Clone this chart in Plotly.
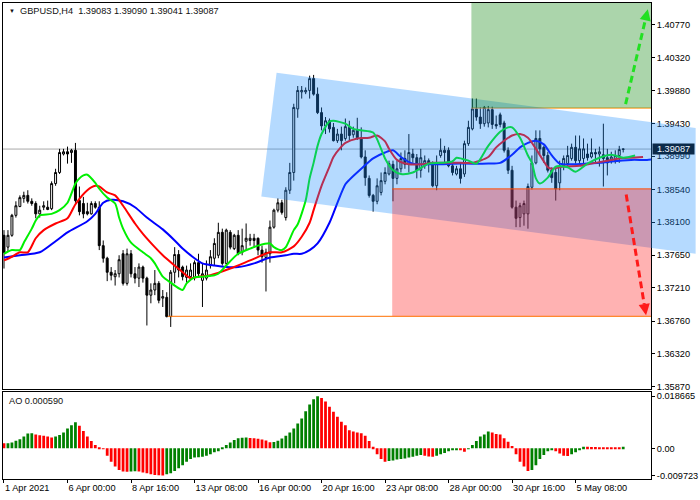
import plotly.graph_objects as go

# ---------------- data ----------------
bar_index = list(range(157))

opens = [1.3792,1.3776,1.3792,1.3819,1.3831,1.3842,1.3846,1.3838,1.3835,1.3821,
1.3830,1.3830,1.3828,1.3862,1.3877,1.3902,1.3905,1.3904,1.3907,1.3839,
1.3835,1.3824,1.3821,1.3835,1.3830,1.3778,1.3761,1.3742,1.3736,1.3740,
1.3767,1.3727,1.3767,1.3740,1.3734,1.3749,1.3734,1.3711,1.3718,1.3727,
1.3707,1.3708,1.3682,1.3742,1.3766,1.3749,1.3735,1.3736,1.3735,1.3755,
1.3731,1.3734,1.3751,1.3761,1.3765,1.3796,1.3754,1.3796,1.3774,1.3792,
1.3769,1.3784,1.3785,1.3788,1.3788,1.3772,1.3762,1.3767,1.3803,1.3826,
1.3836,1.3816,1.3853,1.3877,1.3963,1.3986,1.3986,1.3988,1.4004,1.3983,
1.3958,1.3940,1.3947,1.3938,1.3920,1.3929,1.3923,1.3938,1.3928,1.3934,
1.3924,1.3898,1.3869,1.3846,1.3838,1.3850,1.3865,1.3875,1.3888,1.3869,
1.3882,1.3896,1.3888,1.3902,1.3897,1.3880,1.3886,1.3893,1.3888,1.3859,
1.3900,1.3907,1.3907,1.3886,1.3875,1.3882,1.3875,1.3916,1.3936,1.3963,
1.3952,1.3943,1.3944,1.3962,1.3942,1.3955,1.3944,1.3907,1.3880,1.3830,
1.3816,1.3821,1.3821,1.3857,1.3890,1.3923,1.3911,1.3900,1.3880,1.3877,
1.3863,1.3886,1.3889,1.3896,1.3911,1.3893,1.3896,1.3902,1.3898,1.3904,
1.3902,1.3901,1.3897,1.3893,1.3893,1.3900,1.39083]

highs = [1.3799,1.3799,1.3821,1.3838,1.3846,1.3851,1.3853,1.3842,1.3838,1.3832,
1.3838,1.3839,1.3865,1.3882,1.3909,1.3909,1.3912,1.3909,1.3917,1.3858,
1.3844,1.3836,1.3838,1.3838,1.3838,1.3785,1.3763,1.3749,1.3745,1.3765,
1.3772,1.3774,1.3772,1.3749,1.3754,1.3751,1.3736,1.3727,1.3745,1.3730,
1.3718,1.3715,1.3745,1.3776,1.3772,1.3751,1.3751,1.3754,1.3758,1.3767,
1.3754,1.3758,1.3772,1.3788,1.3809,1.3801,1.3801,1.3799,1.3794,1.3799,
1.3801,1.3808,1.3794,1.3794,1.3789,1.3778,1.3774,1.3812,1.3828,1.3842,
1.3840,1.3857,1.3890,1.3970,1.3994,1.3994,1.3992,1.4008,1.4009,1.3992,
1.3965,1.3952,1.3950,1.3944,1.3936,1.3939,1.3950,1.3947,1.3939,1.3951,
1.3938,1.3907,1.3873,1.3848,1.3869,1.3877,1.3884,1.3893,1.3893,1.3893,
1.3904,1.3907,1.3929,1.3909,1.3902,1.3909,1.3900,1.3896,1.3892,1.3900,
1.3923,1.3913,1.3911,1.3893,1.3886,1.3889,1.3920,1.3947,1.3977,1.3977,
1.3965,1.3967,1.3967,1.3966,1.3954,1.3958,1.3947,1.3911,1.3886,1.3839,
1.3836,1.3839,1.3862,1.3900,1.3934,1.3934,1.3913,1.3905,1.3884,1.3884,
1.3893,1.3900,1.3913,1.3916,1.3927,1.3927,1.3923,1.3916,1.3923,1.3909,
1.3912,1.3943,1.3909,1.3905,1.3907,1.3913,1.39090]

lows = [1.3747,1.3770,1.3790,1.3816,1.3830,1.3836,1.3835,1.3832,1.3815,1.3816,
1.3826,1.3826,1.3826,1.3859,1.3875,1.3900,1.3889,1.3890,1.3836,1.3819,
1.3815,1.3819,1.3820,1.3828,1.3772,1.3755,1.3730,1.3731,1.3724,1.3735,
1.3724,1.3724,1.3735,1.3727,1.3722,1.3728,1.3670,1.3700,1.3711,1.3700,
1.3695,1.3681,1.3668,1.3727,1.3735,1.3731,1.3728,1.3731,1.3731,1.3735,
1.3695,1.3731,1.3747,1.3751,1.3761,1.3751,1.3751,1.3773,1.3772,1.3765,
1.3765,1.3772,1.3778,1.3776,1.3765,1.3755,1.3716,1.3755,1.3801,1.3823,
1.3820,1.3812,1.3848,1.3866,1.3951,1.3977,1.3983,1.3977,1.3981,1.3956,
1.3934,1.3929,1.3931,1.3919,1.3917,1.3907,1.3920,1.3920,1.3924,1.3921,
1.3896,1.3859,1.3843,1.3824,1.3834,1.3846,1.3861,1.3873,1.3838,1.3861,
1.3877,1.3882,1.3877,1.3890,1.3869,1.3870,1.3882,1.3877,1.3857,1.3853,
1.3897,1.3890,1.3884,1.3873,1.3873,1.3862,1.3871,1.3913,1.3934,1.3947,
1.3936,1.3939,1.3938,1.3936,1.3936,1.3938,1.3904,1.3875,1.3828,1.3803,
1.3803,1.3805,1.3801,1.3854,1.3888,1.3902,1.3890,1.3877,1.3863,1.3839,
1.3853,1.3880,1.3886,1.3893,1.3889,1.3886,1.3889,1.3893,1.3896,1.3889,
1.3885,1.3858,1.3873,1.3889,1.3889,1.3890,1.39041]

closes = [1.3769,1.3792,1.3819,1.3832,1.3843,1.3846,1.3838,1.3835,1.3821,1.3826,
1.3832,1.3827,1.3862,1.3877,1.3904,1.3905,1.3902,1.3907,1.3839,1.3824,
1.3821,1.3821,1.3835,1.3830,1.3778,1.3761,1.3742,1.3738,1.3740,1.3759,
1.3727,1.3767,1.3740,1.3734,1.3749,1.3734,1.3711,1.3718,1.3727,1.3704,
1.3709,1.3682,1.3742,1.3766,1.3745,1.3736,1.3745,1.3745,1.3755,1.3740,
1.3740,1.3745,1.3763,1.3781,1.3796,1.3754,1.3799,1.3776,1.3792,1.3767,
1.3778,1.3788,1.3788,1.3785,1.3772,1.3763,1.3769,1.3803,1.3826,1.3836,
1.3823,1.3853,1.3877,1.3965,1.3988,1.3988,1.3988,1.4004,1.3983,1.3958,
1.3940,1.3947,1.3936,1.3920,1.3929,1.3920,1.3939,1.3927,1.3934,1.3924,
1.3898,1.3870,1.3846,1.3838,1.3859,1.3866,1.3877,1.3889,1.3869,1.3882,
1.3896,1.3888,1.3904,1.3897,1.3880,1.3897,1.3893,1.3888,1.3859,1.3890,
1.3907,1.3904,1.3886,1.3877,1.3882,1.3869,1.3916,1.3938,1.3963,1.3952,
1.3943,1.3965,1.3962,1.3942,1.3940,1.3942,1.3907,1.3880,1.3830,1.3815,
1.3832,1.3835,1.3858,1.3890,1.3923,1.3909,1.3900,1.3880,1.3870,1.3855,
1.3886,1.3896,1.3900,1.3911,1.3893,1.3909,1.3909,1.3897,1.3904,1.3902,
1.3905,1.3896,1.3890,1.3898,1.3900,1.3908,1.39087]

# Alligator lines (read at selected bars)
jaw_x = [0,4,9,13,16,21,23,25,27,30,33,36,40,43,45,48,50,53,56,59,63,67,71,73,75,77,79,82,84,86,87,
         90,93,96,98,100,103,108,115,122,125,128,130,132,134,136,138,140,143,147,150,153,158,162,164]
jaw_y = [1.3762,1.3765,1.3769,1.3784,1.3796,1.3811,1.3821,1.3836,1.3840,1.3838,1.3830,1.3816,1.3800,
         1.3785,1.3774,1.3761,1.3754,1.3751,1.3749,1.3749,1.3754,1.3762,1.3765,1.3767,1.3767,1.3772,
         1.3781,1.3809,1.3836,1.3861,1.3867,1.3882,1.3896,1.3904,1.3907,1.3898,1.3889,1.3888,1.3889,
         1.3889,1.3890,1.3901,1.3911,1.3917,1.3920,1.3915,1.3900,1.3889,1.3888,1.3889,1.3890,1.3892,
         1.3894,1.3894,1.3895]

teeth_x = [0,2,4,6,8,10,13,16,18,21,23,24,26,28,30,33,35,38,40,43,45,47,49,52,57,62,67,70,73,75,77,
           78,79,80,82,83,85,86,89,92,94,96,97,99,102,105,108,112,115,118,122,124,126,128,130,132,
           134,136,137,138,141,145,148,152,155,158,161]
teeth_y = [1.3758,1.3763,1.3769,1.3769,1.3788,1.3799,1.3808,1.3815,1.3834,1.3853,1.3859,1.3858,1.3850,
           1.3846,1.3832,1.3808,1.3794,1.3776,1.3765,1.3751,1.3742,1.3734,1.3736,1.3738,1.3747,1.3758,
           1.3769,1.3769,1.3777,1.3790,1.3809,1.3826,1.3843,1.3859,1.3885,1.3898,1.3912,1.3917,1.3923,
           1.3924,1.3927,1.3919,1.3909,1.3894,1.3888,1.3888,1.3890,1.3890,1.3890,1.3890,1.3898,1.3911,
           1.3920,1.3927,1.3929,1.3924,1.3909,1.3892,1.3884,1.3882,1.3885,1.3886,1.3889,1.3893,1.3896,
           1.3897,1.3898]

lips_x = [0,2,4,5,7,8,9,12,14,16,18,19,20,21,23,24,26,28,29,30,32,35,37,38,40,42,43,45,46,48,50,53,
          54,57,59,62,64,67,68,70,71,73,74,76,77,78,79,80,82,83,86,88,90,93,95,96,98,100,103,107,110,
          113,114,117,119,122,125,127,128,130,132,133,134,135,137,139,142,144,147,150,153,156,159]
lips_y = [1.3767,1.3772,1.3772,1.3782,1.3801,1.3812,1.3819,1.3821,1.3826,1.3836,1.3862,1.3869,1.3873,
          1.3874,1.3863,1.3855,1.3843,1.3835,1.3816,1.3801,1.3782,1.3769,1.3761,1.3754,1.3736,1.3728,
          1.3724,1.3718,1.3727,1.3735,1.3736,1.3738,1.3740,1.3757,1.3767,1.3774,1.3778,1.3781,1.3776,
          1.3772,1.3776,1.3799,1.3807,1.3839,1.3869,1.3890,1.3913,1.3929,1.3946,1.3947,1.3943,1.3936,
          1.3934,1.3931,1.3909,1.3896,1.3880,1.3875,1.3877,1.3889,1.3890,1.3892,1.3897,1.3893,1.3889,
          1.3913,1.3932,1.3938,1.3938,1.3924,1.3900,1.3890,1.3869,1.3862,1.3870,1.3885,1.3884,1.3878,
          1.3889,1.3897,1.3901,1.3897,1.3900]

ao_values = [0.00180,0.00185,0.00210,0.00270,0.00330,0.00420,0.00530,0.00540,0.00500,0.00470,
0.00450,0.00420,0.00390,0.00420,0.00480,0.00570,0.00710,0.00830,0.00930,0.00810,
0.00620,0.00420,0.00260,0.00120,0.00040,-0.00020,-0.00260,-0.00480,-0.00650,-0.00770,
-0.00830,-0.00840,-0.00830,-0.00820,-0.00830,-0.00860,-0.00890,-0.00930,-0.00950,-0.00960,
-0.00972,-0.00930,-0.00890,-0.00810,-0.00710,-0.00600,-0.00480,-0.00380,-0.00330,-0.00320,
-0.00300,-0.00260,-0.00210,-0.00140,-0.00100,0.00020,0.00120,0.00210,0.00300,0.00360,
0.00380,0.00385,0.00370,0.00360,0.00340,0.00320,0.00280,0.00220,0.00230,0.00270,
0.00350,0.00450,0.00570,0.00710,0.00890,0.01070,0.01330,0.01570,0.01760,0.01866,
0.01800,0.01680,0.01490,0.01310,0.01130,0.00950,0.00830,0.00650,0.00600,0.00570,
0.00540,0.00450,0.00260,0.00060,-0.00210,-0.00380,-0.00480,-0.00450,-0.00430,-0.00400,
-0.00380,-0.00360,-0.00330,-0.00300,-0.00260,-0.00240,-0.00260,-0.00290,-0.00300,-0.00260,
-0.00210,-0.00170,-0.00100,-0.00050,-0.00040,-0.00070,-0.00120,-0.00020,0.00120,0.00260,
0.00420,0.00500,0.00600,0.00570,0.00510,0.00500,0.00360,0.00240,0.00080,-0.00210,
-0.00480,-0.00650,-0.00810,-0.00770,-0.00600,-0.00380,-0.00240,-0.00100,-0.00060,-0.00100,
-0.00180,-0.00260,-0.00270,-0.00210,-0.00140,-0.00070,0.00060,0.00055,0.00050,0.00046,
0.00042,0.00039,0.00036,0.00034,0.00032,0.00030,0.00059]

price_ticks = [1.40770,1.40320,1.39880,1.39430,1.38990,1.38540,1.38100,1.37650,1.37210,1.36760,1.36320,1.35870]
price_tick_text = ["1.40770","1.40320","1.39880","1.39430","1.38990","1.38540","1.38100","1.37650","1.37210","1.36760","1.36320","1.35870"]
date_tick_index = [0,16,32,48,64,80,96,112,128,144]
date_tick_labels = ["1 Apr 2021","6 Apr 00:00","8 Apr 16:00","13 Apr 08:00","16 Apr 00:00",
                    "20 Apr 16:00","23 Apr 08:00","28 Apr 00:00","30 Apr 16:00","5 May 08:00"]
ao_ticks = [0.018665, 0.0, -0.009723]
ao_tick_text = ["0.018665", "0.00", "-0.009723"]

current_price = 1.39087
last_ohlc = "1.39083 1.39090 1.39041 1.39087"
ao_last = "0.000590"

# analysis objects (levels in price / bar units)
buy_zone_start, buy_zone_level = 117.75, 1.39641
sell_zone_start, sell_zone_top, sell_zone_bottom = 97.8, 1.38548, 1.36824
support_start = 41.25
channel_top_left = (68.675, 1.40118)
channel_bottom_left = (64.825, 1.38444)
channel_slope = -0.0000707
up_arrow = ((156.6, 1.39695), (162.2, 1.40978))
down_arrow = ((156.75, 1.38471), (161.75, 1.36838))

# ---------------- layout geometry ----------------
X0, X1 = -0.25, 163.0
Y0, Y1 = 1.35838, 1.41063
MAIN_DOM = (0.18868, 1.0)
AO_DOM = (0.0, 0.18239)
AO_RANGE = (-0.010957, 0.020093)
FIG_RIGHT_X = X0 + 698 / 4.0

def px_(i):
    return (i - X0) / (X1 - X0)

def py_(p):
    return MAIN_DOM[0] + (p - Y0) / (Y1 - Y0) * (MAIN_DOM[1] - MAIN_DOM[0])

FONT = "Liberation Sans, Arial, sans-serif"

fig = go.Figure()
fig.add_trace(go.Candlestick(
    x=bar_index, open=opens, high=highs, low=lows, close=closes,
    increasing=dict(line=dict(color="black", width=1), fillcolor="white"),
    decreasing=dict(line=dict(color="black", width=1), fillcolor="black"),
    whiskerwidth=0, xaxis="x", yaxis="y", hoverinfo="skip", showlegend=False))

for xs, ys, col in [(jaw_x, jaw_y, "#0000ff"), (teeth_x, teeth_y, "#ff0000"), (lips_x, lips_y, "#00f000")]:
    fig.add_trace(go.Scatter(x=xs, y=ys, mode="lines", line=dict(color=col, width=2, shape="spline", smoothing=0.7),
                             xaxis="x", yaxis="y", hoverinfo="skip", showlegend=False))

ao_colors = ["#ff0000"] + ["#008000" if ao_values[k] > ao_values[k - 1] else "#ff0000" for k in range(1, len(ao_values))]
fig.add_trace(go.Bar(x=bar_index, y=ao_values, marker=dict(color=ao_colors, line=dict(width=0)), width=0.7,
                     xaxis="x2", yaxis="y2", hoverinfo="skip", showlegend=False))

shapes = []
shapes.append(dict(type="line", xref="x domain", yref="y", x0=0, x1=1, y0=current_price, y1=current_price,
                   line=dict(color="#a8a8a8", width=1), layer="below"))
shapes.append(dict(type="line", xref="x", yref="y", x0=buy_zone_start, x1=X1, y0=buy_zone_level, y1=buy_zone_level,
                   line=dict(color="#ff8c00", width=1), layer="above"))
tl, bl = channel_top_left, channel_bottom_left
tr = (FIG_RIGHT_X, tl[1] + channel_slope * (FIG_RIGHT_X - tl[0]))
br = (FIG_RIGHT_X, bl[1] + channel_slope * (FIG_RIGHT_X - bl[0]))
path = "M {} {} L {} {} L {} {} L {} {} Z".format(px_(tl[0]), py_(tl[1]), px_(tr[0]), py_(tr[1]),
                                                  px_(br[0]), py_(br[1]), px_(bl[0]), py_(bl[1]))
shapes.append(dict(type="path", xref="paper", yref="paper", path=path, fillcolor="rgb(30,144,255)",
                   opacity=0.33, line=dict(width=0), layer="above"))
shapes.append(dict(type="rect", xref="x", yref="y", x0=buy_zone_start, x1=X1, y0=buy_zone_level, y1=Y1,
                   fillcolor="rgb(0,128,0)", opacity=0.33, line=dict(width=0), layer="above"))
shapes.append(dict(type="rect", xref="x", yref="y", x0=sell_zone_start, x1=X1, y0=sell_zone_bottom, y1=sell_zone_top,
                   fillcolor="rgb(255,0,0)", opacity=0.3, line=dict(width=0), layer="above"))
shapes.append(dict(type="line", xref="x", yref="y", x0=sell_zone_start, x1=X1, y0=sell_zone_top, y1=sell_zone_top,
                   line=dict(color="#ff4a00", width=1), layer="above"))
shapes.append(dict(type="line", xref="x", yref="y", x0=support_start, x1=X1, y0=sell_zone_bottom, y1=sell_zone_bottom,
                   line=dict(color="#ff7000", width=1), layer="above"))

annotations = []
for (s, t), col, frac in [(up_arrow, "#22e022", 0.115), (down_arrow, "#ff1a1a", 0.09)]:
    hx = t[0] - frac * (t[0] - s[0])
    hy = t[1] - frac * (t[1] - s[1])
    shapes.append(dict(type="line", xref="x", yref="y", x0=s[0], y0=s[1], x1=hx, y1=hy,
                       line=dict(color=col, width=3, dash="7px,4px"), layer="above"))
    annotations.append(dict(x=t[0], y=t[1], ax=hx, ay=hy, xref="x", yref="y", axref="x", ayref="y",
                            text="", showarrow=True, arrowhead=2, arrowsize=0.9, arrowwidth=2.5,
                            arrowcolor=col, standoff=0))

annotations.append(dict(xref="paper", yref="paper", x=(6.5 - 2) / 653, y=(479 - 10) / 477, xanchor="left",
                        yanchor="middle", text="▼", showarrow=False, font=dict(family=FONT, size=6, color="#111111")))
annotations.append(dict(xref="paper", yref="paper", x=(17 - 2) / 653, y=(479 - 10.5) / 477, xanchor="left",
                        yanchor="middle", text="GBPUSD,H4  " + last_ohlc, showarrow=False,
                        font=dict(family=FONT, size=9.2, color="#111111")))
annotations.append(dict(xref="paper", yref="paper", x=(6 - 2) / 653, y=(479 - 400.7) / 477, xanchor="left",
                        yanchor="middle", text="AO " + ao_last, showarrow=False,
                        font=dict(family=FONT, size=9.2, color="#111111")))
annotations.append(dict(xref="paper", yref="y", x=1, y=current_price, xanchor="left", yanchor="middle",
                        xshift=1, text="{:.5f}".format(current_price), showarrow=False, width=41, height=10,
                        bgcolor="#0b2a4a", font=dict(family=FONT, size=9.2, color="#eef6ff"), borderpad=0))

axis_common = dict(showgrid=False, zeroline=False, showline=True, mirror=True, linecolor="black", linewidth=1,
                   tickfont=dict(family=FONT, size=9.2, color="black"), tickcolor="black")

fig.update_layout(
    width=700, height=500, margin=dict(l=2, r=45, t=2, b=21),
    paper_bgcolor="white", plot_bgcolor="white", showlegend=False, hovermode=False,
    xaxis=dict(domain=[0, 1], range=[X0, X1], anchor="y", showticklabels=False, ticks="",
               rangeslider=dict(visible=False), **axis_common),
    yaxis=dict(domain=list(MAIN_DOM), range=[Y0, Y1], anchor="x", side="right", tickvals=price_ticks,
               ticktext=price_tick_text, ticks="outside", ticklen=3, **axis_common),
    xaxis2=dict(domain=[0, 1], range=[X0, X1], anchor="y2", tickvals=date_tick_index, ticktext=date_tick_labels,
                ticks="outside", ticklen=3, ticklabelposition="outside right", **axis_common),
    yaxis2=dict(domain=list(AO_DOM), range=list(AO_RANGE), anchor="x2", side="right", tickvals=ao_ticks,
                ticktext=ao_tick_text, ticks="outside", ticklen=3, **axis_common),
    shapes=shapes, annotations=annotations,
)

fig.write_html("out.html", config={"displayModeBar": False},
               post_script="document.body.style.margin='0';document.body.style.overflow='hidden';")
